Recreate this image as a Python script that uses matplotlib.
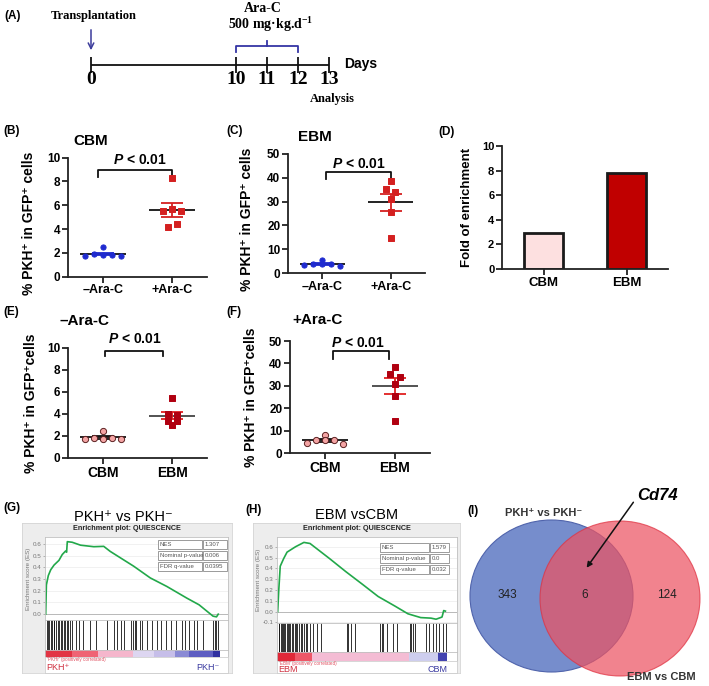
import numpy as np
import matplotlib.pyplot as plt
from matplotlib.patches import Rectangle, Ellipse

plt.rcParams['font.family'] = ['Liberation Sans', 'DejaVu Sans']
plt.rcParams['mathtext.fontset'] = 'custom'
plt.rcParams['mathtext.default'] = 'regular'
plt.rcParams['mathtext.it'] = 'Liberation Sans:italic:bold'

W, H = 709, 686
SUP_P, SUP_M = '\u207a', '\u207b'

# ---- data ----
# (A) timeline
days = [0, 10, 11, 12, 13]

# (B) CBM, (C) EBM : % PKH+ in GFP+ cells
b_minus = [1.7, 1.9, 2.5, 1.8, 1.85, 1.7]
b_plus = [8.3, 5.5, 5.7, 5.5, 4.2, 4.4]
c_minus = [3.2, 3.8, 5.5, 3.9, 3.9, 3.0]
c_plus = [38.5, 35.3, 34.0, 31.0, 25.5, 14.5]
ara_labels = ['\u2013Ara-C', '+Ara-C']

# (D) fold of enrichment
d_groups = ['CBM', 'EBM']
d_fold = [2.9, 7.8]

# (E) -Ara-C, (F) +Ara-C
e_cbm = [1.7, 1.85, 2.5, 1.75, 1.8, 1.7]
e_ebm = [5.45, 4.0, 3.9, 3.4, 3.4, 3.0]
f_cbm = [4.5, 5.7, 8.2, 5.7, 5.7, 4.2]
f_ebm = [38.5, 35.3, 34.0, 31.0, 25.5, 14.5]
bm_labels = ['CBM', 'EBM']

# (G) GSEA PKH+ vs PKH-
g_rank = [0.0, 0.004, 0.008, 0.015, 0.029, 0.048, 0.076, 0.095, 0.114, 0.12, 0.124,
          0.152, 0.2, 0.276, 0.333, 0.37, 0.505, 0.6, 0.695, 0.81, 0.88, 0.96, 0.98, 0.99]
g_es = [0.0, 0.25, 0.28, 0.33, 0.38, 0.42, 0.46, 0.51, 0.54, 0.53, 0.62,
        0.615, 0.59, 0.577, 0.58, 0.537, 0.41, 0.31, 0.237, 0.137, 0.08, -0.017, -0.023, 0.0]
g_hits = [0.005, 0.012, 0.02, 0.028, 0.035, 0.045, 0.05, 0.06, 0.07, 0.075, 0.085, 0.095,
          0.105, 0.11, 0.12, 0.13, 0.14, 0.15, 0.175, 0.19, 0.215, 0.255, 0.29, 0.35, 0.39,
          0.41, 0.43, 0.45, 0.49, 0.5, 0.51, 0.52, 0.54, 0.555, 0.58, 0.61, 0.64, 0.66, 0.69,
          0.72, 0.75, 0.78, 0.8, 0.82, 0.85, 0.87, 0.9, 0.96, 0.97, 0.98, 0.99]
g_table = [('NES', '1.307'), ('Nominal p-value', '0.006'), ('FDR q-value', '0.0395')]

# (H) GSEA EBM vs CBM
h_rank = [0.0, 0.006, 0.015, 0.035, 0.055, 0.075, 0.105, 0.154, 0.19, 0.305, 0.4, 0.5,
          0.59, 0.69, 0.765, 0.84, 0.9, 0.93, 0.965, 0.975, 0.985]
h_es = [0.0, 0.19, 0.42, 0.49, 0.55, 0.57, 0.6, 0.64, 0.63, 0.49, 0.37, 0.25,
        0.14, 0.05, -0.02, -0.055, -0.06, -0.07, -0.05, 0.01, 0.005]
h_hits = [0.005, 0.01, 0.017, 0.025, 0.03, 0.038, 0.045, 0.052, 0.06, 0.068, 0.075, 0.083,
          0.09, 0.1, 0.108, 0.115, 0.125, 0.135, 0.145, 0.155, 0.165, 0.175, 0.19, 0.21,
          0.23, 0.255, 0.405, 0.415, 0.43, 0.455, 0.6, 0.61, 0.62, 0.64, 0.68, 0.7, 0.775,
          0.785, 0.795, 0.805, 0.87, 0.89, 0.91, 0.93, 0.95, 0.97, 0.99]
h_table = [('NES', '1.579'), ('Nominal p-value', '0.0'), ('FDR q-value', '0.032')]

# (I) Venn counts
venn_counts = [343, 6, 124]


def box(x0, y0, x1, y1):
    return [x0 / W, 1 - y1 / H, (x1 - x0) / W, (y1 - y0) / H]


def swarm(vals, tol, step):
    vals = np.asarray(vals)
    order = np.argsort(vals, kind='stable')
    offs = np.zeros(len(vals))
    clusters, cur = [], [order[0]]
    for i in order[1:]:
        if vals[i] - vals[cur[-1]] < tol:
            cur.append(i)
        else:
            clusters.append(cur)
            cur = [i]
    clusters.append(cur)
    for c in clusters:
        c = sorted(c)
        k = len(c)
        for j, idx in enumerate(c):
            offs[idx] = (j - (k - 1) / 2) * step
    return offs


def style_axis(ax, ymax, ystep, xlabels, xfs=9):
    for s in ['top', 'right']:
        ax.spines[s].set_visible(False)
    for s in ['left', 'bottom']:
        ax.spines[s].set_linewidth(1.3)
        ax.spines[s].set_color('#222222')
    ax.set_xlim(-0.5, 1.5)
    ax.set_ylim(0, ymax)
    ax.set_yticks(np.arange(0, ymax + ystep / 2, ystep))
    ax.set_xticks([0, 1])
    ax.set_xticklabels(xlabels, fontsize=xfs, fontweight='bold')
    ax.tick_params(width=1.3, length=4, color='#222222', pad=1.5)
    ax.tick_params(axis='y', labelsize=8.5)
    for lab in ax.get_yticklabels():
        lab.set_fontweight('bold')
    ax.patch.set_alpha(0)


def dots(ax, groups, markers, faces, edges, sem_cols, mean_cols, sizes, tol):
    for i, vals in enumerate(groups):
        vals = np.asarray(vals, dtype=float)
        offs = swarm(vals, tol, 0.13)
        m = vals.mean()
        se = vals.std(ddof=1) / np.sqrt(len(vals))
        ax.hlines(m, i - 0.33, i + 0.33, color=mean_cols[i], lw=1.3, zorder=2)
        ax.vlines(i, m - se, m + se, color=sem_cols[i], lw=1.3, zorder=2)
        ax.hlines([m - se, m + se], i - 0.16, i + 0.16, color=sem_cols[i], lw=1.3, zorder=2)
        ax.scatter(i + offs, vals, marker=markers[i], s=sizes[i], c=faces[i],
                   edgecolors=edges[i], linewidths=0.7, zorder=3, clip_on=False)


def bracket(ax, x0, x1, ytop, yleg, tx, ty):
    ax.plot([x0, x0, x1, x1], [yleg, ytop, ytop, yleg], color='#111111', lw=1.3, clip_on=False)
    ax.text(tx, ty, r'$\mathit{P}$ < 0.01', ha='center', va='center', fontsize=10,
            fontweight='bold')


fig = plt.figure(figsize=(W / 100, H / 100), dpi=100)

# ---- (A) timeline ----
axA = fig.add_axes(box(40, 0, 420, 110))
axA.set_axis_off()
axA.set_xlim((40 - 91) / 31, (420 - 91) / 31)
axA.set_ylim(110, 0)
dpos = np.where(np.array(days) <= 10, np.array(days) * 0.468, 4.68 + (np.array(days) - 10))
axA.hlines(65, dpos[0], dpos[-1], color='#111111', lw=1.3)
axA.vlines(dpos, 57, 73, color='#111111', lw=1.3)
serif = ['Liberation Serif', 'DejaVu Serif']
for p, d in zip(dpos, days):
    axA.text(p, 80, str(d), ha='center', va='center', fontsize=14, fontweight='bold', family=serif)
axA.text(dpos[-1] + 0.5, 64, 'Days', ha='left', va='center', fontsize=10, fontweight='bold')
axA.text(dpos[-1] + 0.1, 99, 'Analysis', ha='center', va='center', fontsize=9,
         fontweight='bold', family=serif)
axA.text(dpos[0] + 0.1, 16, 'Transplantation', ha='center', va='center', fontsize=9,
         fontweight='bold', family=serif)
axA.annotate('', xy=(dpos[0], 53), xytext=(dpos[0], 27),
             arrowprops=dict(arrowstyle='->', color='#3b3b9b', lw=1.1))
bcol = '#3535a5'
axA.plot([dpos[1], dpos[1], dpos[3], dpos[3]], [52, 46, 46, 52], color=bcol, lw=1.3)
axA.plot([dpos[2], dpos[2]], [46, 41], color=bcol, lw=1.3)
axA.text(dpos[2] - 0.15, 8.5, 'Ara-C', ha='center', va='center', fontsize=10,
         fontweight='bold', family=serif)
axA.text(dpos[2] + 0.1, 24.5, '500 mg\u00b7kg.d$^{-1}$', ha='center', va='center', fontsize=10,
         fontweight='bold', family=serif)

blue = '#1f2bd0'
red = '#d42020'
dred = '#b00010'
pink = '#f4a4a4'
ylab_sp = '% PKH' + SUP_P + ' in GFP' + SUP_P + ' cells'
ylab_ns = '% PKH' + SUP_P + ' in GFP' + SUP_P + 'cells'

# ---- (B) ----
axB = fig.add_axes(box(68, 157.7, 207, 276.7))
style_axis(axB, 10, 2, ara_labels)
dots(axB, [b_minus, b_plus], ['o', 's'], [blue, red], [blue, red], [blue, red],
     ['#111111', '#111111'], [14, 16], 0.3)
bracket(axB, -0.07, 1.0, 8.97, 8.38, 0.54, 9.8)
axB.set_ylabel(ylab_sp, fontsize=10, fontweight='bold')
axB.yaxis.set_label_coords(-0.23, 0.45)

# ---- (C) ----
axC = fig.add_axes(box(288, 154, 425, 273))
style_axis(axC, 50, 10, ara_labels)
dots(axC, [c_minus, c_plus], ['o', 's'], [blue, red], [blue, red], [blue, red],
     ['#111111', '#111111'], [14, 16], 1.5)
bracket(axC, 0.06, 1.0, 42.4, 39.5, 0.53, 45.7)
axC.set_ylabel(ylab_sp, fontsize=10, fontweight='bold')
axC.yaxis.set_label_coords(-0.25, 0.45)

# ---- (D) ----
axD = fig.add_axes(box(502, 146, 668, 269))
style_axis(axD, 10, 2, d_groups, xfs=9.5)
axD.tick_params(axis='y', labelsize=8)
axD.bar([0, 1], d_fold, width=0.48, color=['#fde0e0', '#c00000'], edgecolor='#1a1a1a',
        linewidth=2, zorder=2)
axD.set_ylabel('Fold of enrichment', fontsize=9.5, fontweight='bold')
axD.yaxis.set_label_coords(-0.175, 0.5)

# ---- (E) ----
axE = fig.add_axes(box(68, 348, 207, 458))
style_axis(axE, 10, 2, bm_labels, xfs=10)
dots(axE, [e_cbm, e_ebm], ['o', 's'], [pink, dred], ['#5a2020', dred], ['#111111', '#e02020'],
     ['#111111', '#444444'], [20, 22], 0.3)
bracket(axE, 0.03, 0.86, 9.73, 9.27, 0.46, 10.8)
axE.set_ylabel(ylab_ns, fontsize=10, fontweight='bold')
axE.yaxis.set_label_coords(-0.216, 0.5)

# ---- (F) ----
axF = fig.add_axes(box(290, 341, 430, 453))
style_axis(axF, 50, 10, bm_labels, xfs=10)
dots(axF, [f_cbm, f_ebm], ['o', 's'], [pink, dred], ['#5a2020', dred], ['#111111', '#e02020'],
     ['#111111', '#444444'], [20, 22], 1.5)
bracket(axF, 0.11, 0.91, 45.5, 42.0, 0.47, 49)
axF.set_ylabel(ylab_ns, fontsize=10, fontweight='bold')
axF.yaxis.set_label_coords(-0.23, 0.5)


# ---- (G), (H) GSEA ----
def gsea(outer, x0, x1, ytop, ymid, yhit, ybar, ybot, xmax, ylim, yticks, ranks, es, hits,
         segs, left_lab, right_lab, corr_lab):
    bg = fig.add_axes(box(outer[0], outer[1], outer[2], outer[3]))
    bg.set_facecolor('#ededed')
    bg.set_xticks([])
    bg.set_yticks([])
    for s in bg.spines.values():
        s.set_color('#d4d4d4')
        s.set_linewidth(0.6)

    ax = fig.add_axes(box(x0, ytop, x1, ymid))
    ax.set_facecolor('white')
    ax.set_xlim(-0.004, xmax)
    ax.set_ylim(*ylim)
    ax.set_yticks(yticks)
    ax.set_yticklabels(['%.1f' % t for t in yticks], fontsize=4.5, color='#777777')
    ax.set_xticks([])
    ax.tick_params(axis='y', length=1.5, width=0.5, color='#999999', pad=1)
    ax.grid(axis='y', color='#ececec', lw=0.5)
    ax.axhline(0, color='#b0b0b0', lw=0.6)
    ax.plot(ranks, es, color='#22a84a', lw=1.2)
    ax.set_ylabel('Enrichment score (ES)', fontsize=4.5, color='#777777', labelpad=1)
    for s in ax.spines.values():
        s.set_color('#c0c0c0')
        s.set_linewidth(0.6)

    axh = fig.add_axes(box(x0, ymid, x1, yhit))
    axh.set_xlim(-0.004, xmax)
    axh.set_ylim(0, 1)
    axh.vlines(hits, 0, 1, color='#111111', lw=0.6)
    axh.set_xticks([])
    axh.set_yticks([])
    for s in axh.spines.values():
        s.set_color('#c0c0c0')
        s.set_linewidth(0.6)

    axb = fig.add_axes(box(x0, yhit, x1, ybar))
    axb.set_xlim(-0.004, xmax)
    axb.set_ylim(0, 1)
    for a, b, c in segs:
        axb.axvspan(a, b, color=c, lw=0)
    axb.set_xticks([])
    axb.set_yticks([])
    for s in axb.spines.values():
        s.set_color('#c0c0c0')
        s.set_linewidth(0.6)

    axl = fig.add_axes(box(x0, ybar, x1, ybot))
    axl.set_xlim(-0.004, xmax)
    axl.set_ylim(1, 0)
    axl.set_xticks([])
    axl.set_yticks([])
    for s in axl.spines.values():
        s.set_color('#d0d0d0')
        s.set_linewidth(0.6)
    axl.text(0.005, 0.18, corr_lab, fontsize=3.3, color='#e05060', va='center')
    axl.text(0.005, 0.68, left_lab, fontsize=6.5, color='#d03040', va='center')
    axl.text(1.0, 0.68, right_lab, fontsize=6.5, color='#3a3aa0', va='center', ha='right')
    return ax


g_segs = [(-0.004, 0.15, '#e23444'), (0.15, 0.3, '#ef6474'), (0.3, 0.5, '#f5b6cc'),
          (0.5, 0.62, '#ddd6f1'), (0.62, 0.74, '#c6bee9'), (0.74, 0.82, '#8a8ad5'),
          (0.82, 0.96, '#5e5ec2'), (0.96, 1.0, '#3030a0')]
h_segs = [(-0.004, 0.1, '#e02838'), (0.1, 0.2, '#ee5868'), (0.2, 0.77, '#f4bcd4'),
          (0.77, 0.94, '#ceceee'), (0.94, 0.995, '#4444b0')]

gsea((22, 523, 232, 673), 45, 228, 537, 620, 650, 657, 673, 1.046, (-0.05, 0.66),
     np.arange(0, 0.61, 0.1), g_rank, g_es, g_hits, g_segs, 'PKH' + SUP_P, 'PKH' + SUP_M,
     "'PKHr' (positively correlated)")
gsea((253, 523, 460, 673), 277, 457, 537, 623, 652, 661, 673, 1.053, (-0.105, 0.69),
     np.arange(-0.1, 0.61, 0.1), h_rank, h_es, h_hits, h_segs, 'EBM', 'CBM',
     "'EBM' (positively correlated)")

# ---- overlay (pixel coords) ----
ov = fig.add_axes([0, 0, 1, 1])
ov.set_xlim(0, W)
ov.set_ylim(H, 0)
ov.set_axis_off()

lab_kw = dict(fontsize=8.5, fontweight='bold', va='center', ha='left')
for s, x, y in [('(A)', 4, 16), ('(B)', 3, 131), ('(C)', 226, 131), ('(D)', 438, 132),
                ('(E)', 3, 312), ('(F)', 226, 312), ('(G)', 3, 508), ('(H)', 245, 510),
                ('(I)', 467, 511)]:
    ov.text(x, y, s, **lab_kw)

ttl_kw = dict(fontsize=11, fontweight='bold', va='center', ha='left')
ov.text(73, 141, 'CBM', **ttl_kw)
ov.text(298, 137, 'EBM', **ttl_kw)
ov.text(60, 321, '\u2013Ara-C', **ttl_kw)
ov.text(292, 320, '+Ara-C', **ttl_kw)

ov.text(123, 517, 'PKH' + SUP_P + ' vs PKH' + SUP_M, fontsize=10.5, ha='center', va='center')
ov.text(357, 515, 'EBM vsCBM', fontsize=10.5, ha='center', va='center')
ov.text(127, 529, 'Enrichment plot: QUIESCENCE', fontsize=5.2, fontweight='bold',
        ha='center', va='center', color='#222222')
ov.text(357, 529, 'Enrichment plot: QUIESCENCE', fontsize=5.2, fontweight='bold',
        ha='center', va='center', color='#222222')


def nes_table(rows, xl, xm, xr, ys, h):
    for (k, v), y in zip(rows, ys):
        ov.add_patch(Rectangle((xl, y), xm - xl - 1, h, fc='white', ec='#8a8a8a', lw=0.6))
        ov.add_patch(Rectangle((xm, y), xr - xm, h, fc='white', ec='#8a8a8a', lw=0.6))
        ov.text(xl + 2, y + h / 2, k, fontsize=4.3, color='#555555', va='center')
        ov.text(xm + 2, y + h / 2, v, fontsize=4.3, color='#555555', va='center')


nes_table(g_table, 158, 203, 227, [540, 551, 562], 8.5)
nes_table(h_table, 380, 430, 449, [543, 554, 565], 8.5)

# ---- (I) Venn ----
ov.add_patch(Ellipse((551.5, 596), 163, 152, fc='#768dcc', ec='#5064ac', lw=0.8))
ov.add_patch(Ellipse((620, 598.5), 160, 155, fc='#ec5462', ec='#e03040', lw=0.8, alpha=0.72))
for c, x in zip(venn_counts, [507, 585, 667]):
    ov.text(x, 595, str(c), fontsize=8.5, ha='center', va='center', color='#222222')
ov.text(544, 513, 'PKH' + SUP_P + ' vs PKH' + SUP_M, fontsize=8, fontweight='bold',
        ha='center', va='center', color='#333333')
ov.text(661, 677, 'EBM vs CBM', fontsize=8, fontweight='bold', ha='center', va='center',
        color='#333333')
ov.text(658, 495, 'Cd74', fontsize=12, fontweight='bold', style='italic', ha='center',
        va='center')
ov.annotate('', xy=(585, 570), xytext=(635, 500),
            arrowprops=dict(arrowstyle='-|>', color='#111111', lw=1.1, mutation_scale=8))

fig.savefig('out.png', dpi=100)
